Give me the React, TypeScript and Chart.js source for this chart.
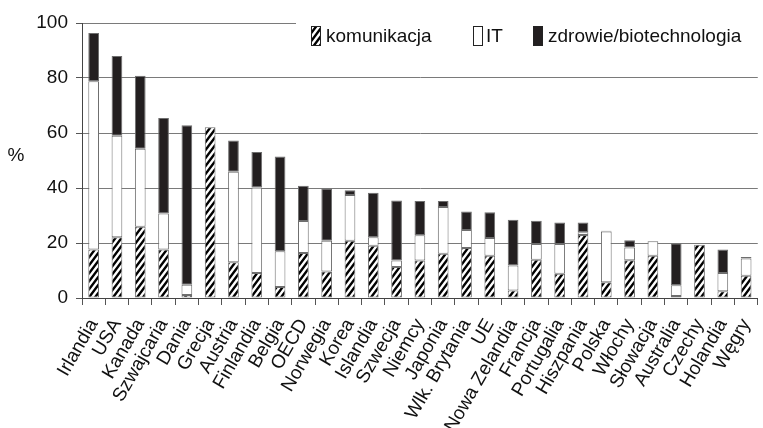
import React, { useEffect, useRef } from 'react';
import { Chart, registerables } from 'chart.js';

Chart.register(...registerables);

const categories = [
  'Irlandia', 'USA', 'Kanada', 'Szwajcaria', 'Dania', 'Grecja', 'Austria', 'Finlandia', 'Belgia', 'OECD',
  'Norwegia', 'Korea', 'Islandia', 'Szwecja', 'Niemcy', 'Japonia', 'Wlk. Brytania', 'UE', 'Nowa Zelandia',
  'Francja', 'Portugalia', 'Hiszpania', 'Polska', 'Włochy', 'Słowacja', 'Australia', 'Czechy', 'Holandia', 'Węgry',
];
const komunikacja = [17.6, 22.1, 25.9, 17.6, 1.1, 62.1, 13.0, 9.1, 4.0, 16.4, 9.6, 20.8, 19.0, 11.3, 13.6, 16.1, 18.2, 15.4, 2.7, 13.9, 8.8, 22.9, 5.7, 13.7, 15.4, 0.7, 19.4, 2.5, 8.1];
const it = [61.2, 36.9, 28.4, 13.1, 3.7, 0, 32.9, 31.1, 13.0, 11.6, 11.2, 16.7, 3.1, 2.3, 9.2, 17.0, 6.5, 6.4, 9.1, 5.7, 10.8, 1.0, 18.5, 4.7, 5.2, 3.9, 0, 6.6, 6.3];
const zdrowie = [17.6, 29.0, 26.5, 34.8, 58.0, 0, 11.4, 12.9, 34.5, 12.8, 19.0, 1.7, 16.2, 21.9, 12.5, 2.2, 6.8, 9.4, 16.7, 8.5, 7.9, 3.6, 0.3, 2.6, 0, 15.3, 0, 8.5, 0.5];
const seriesLabels = ['komunikacja', 'IT', 'zdrowie/biotechnologia'];
const yTicks = [0, 20, 40, 60, 80, 100];

const FONT = '"Liberation Sans", Arial, sans-serif';

function makeHatch(ctx: CanvasRenderingContext2D) {
  const w = 6;
  const h = 8;
  const c = document.createElement('canvas');
  c.width = w;
  c.height = h;
  const g = c.getContext('2d')!;
  g.fillStyle = '#ffffff';
  g.fillRect(0, 0, w, h);
  g.strokeStyle = '#000000';
  g.lineWidth = 2.4;
  g.beginPath();
  for (let k = -1; k <= 1; k++) {
    const x0 = k * w;
    // extend beyond the tile to avoid gaps at the corners
    g.moveTo(x0 - w * 0.25, h + h * 0.25);
    g.lineTo(x0 + w + w * 0.25, -h * 0.25);
  }
  g.stroke();
  return ctx.createPattern(c, 'repeat')!;
}

export default function App() {
  const ref = useRef<HTMLCanvasElement | null>(null);

  useEffect(() => {
    document.body.style.margin = '0';
    document.body.style.overflow = 'hidden';
    document.documentElement.style.overflow = 'hidden';
    const canvas = ref.current!;
    const ctx = canvas.getContext('2d')!;
    const hatch = makeHatch(ctx);
    const fills = [hatch, '#ffffff', '#231f20'];

    const overlayPlugin = {
      id: 'overlay',
      afterDraw(chart: any) {
        const c = chart.ctx as CanvasRenderingContext2D;
        c.save();
        c.fillStyle = '#111';
        c.font = `19px ${FONT}`;
        c.textAlign = 'center';
        c.textBaseline = 'middle';
        c.fillText('%', 16, 156);
        c.fillStyle = '#ffffff';
        c.fillRect(296, 14, 462, 38);
        const pos = [
          { box: 311, text: 326 },
          { box: 473, text: 486 },
          { box: 533, text: 548 },
        ];
        chart.data.datasets.forEach((ds: any, i: number) => {
          const p = pos[i];
          c.fillStyle = fills[i] as any;
          c.fillRect(p.box, 26, 9, 19);
          c.strokeStyle = '#222';
          c.lineWidth = 1;
          c.strokeRect(p.box + 0.5, 26.5, 9, 19);
          c.fillStyle = '#111';
          c.textAlign = 'left';
          c.textBaseline = 'middle';
          c.font = `19px ${FONT}`;
          c.fillText(ds.label, p.text, 37);
        });
        c.restore();
      },
    };

    const data = [komunikacja, it, zdrowie];
    const chart = new Chart(canvas, {
      type: 'bar',
      data: {
        labels: categories,
        datasets: data.map((d, i) => ({
          label: seriesLabels[i],
          data: d,
          backgroundColor: fills[i] as any,
          borderColor: '#6e6e6e',
          borderWidth: 1,
          borderSkipped: false,
          categoryPercentage: 1,
          barPercentage: 0.46,
        })),
      },
      options: {
        animation: false,
        responsive: false,
        devicePixelRatio: 1,
        layout: { padding: { top: 23, right: 8, left: 0, bottom: 0 } },
        plugins: {
          legend: { display: false },
          tooltip: { enabled: false },
        },
        scales: {
          x: {
            stacked: true,
            afterFit: (s: any) => { s.height = 130; },
            grid: {
              drawOnChartArea: false,
              drawTicks: true,
              tickLength: 7,
              tickColor: '#555',
              offset: true,
            },
            border: { color: '#444', width: 1 },
            ticks: {
              autoSkip: false,
              minRotation: 60,
              maxRotation: 60,
              padding: 10,
              color: '#111',
              font: { family: FONT, size: 19 },
            },
          },
          y: {
            stacked: true,
            min: 0,
            max: 100,
            afterFit: (s: any) => { s.width = 82; },
            afterBuildTicks: (s: any) => { s.ticks = yTicks.map((v) => ({ value: v })); },
            grid: {
              color: '#7a7a7a',
              lineWidth: 1,
              tickLength: 6,
              tickColor: '#555',
            },
            border: { color: '#444', width: 1 },
            ticks: {
              padding: 8,
              color: '#111',
              font: { family: FONT, size: 19 },
            },
          },
        },
      },
      plugins: [overlayPlugin],
    } as any);
    return () => chart.destroy();
  }, []);

  return (
    <div style={{ width: 776, height: 428 }}>
      <canvas ref={ref} width={776} height={428} style={{ display: 'block' }} />
    </div>
  );
}
